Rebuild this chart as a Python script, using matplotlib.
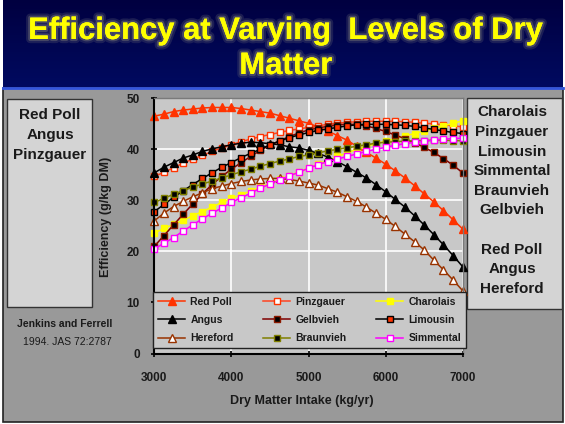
import numpy as np
import matplotlib
matplotlib.use("Agg")
import matplotlib.pyplot as plt
import matplotlib.patheffects as pe
from matplotlib.patches import Rectangle

plt.rcParams['font.family'] = ['Liberation Sans', 'DejaVu Sans']

# Dry matter intake grid (kg/yr), one point every 125 kg/yr
intake = np.arange(3000, 7001, 125)

# Efficiency (g/kg DM), Jenkins and Ferrell 1994
red_poll = [46.5, 46.9, 47.4, 47.7, 47.9, 48.1, 48.2, 48.2, 48.2, 48.0, 47.7,
            47.4, 47.1, 46.6, 46.1, 45.6, 45.1, 44.4, 43.6, 42.7, 41.8, 40.6,
            39.4, 38.3, 37.1, 35.8, 34.4, 32.9, 31.3, 29.7, 28.0, 26.2, 24.4]
pinzgauer = [34.7, 35.5, 36.4, 37.3, 38.1, 38.8, 39.6, 40.3, 40.9, 41.5, 42.0,
             42.5, 42.9, 43.3, 43.7, 44.0, 44.3, 44.6, 44.9, 45.1, 45.3, 45.4,
             45.5, 45.5, 45.5, 45.5, 45.4, 45.3, 45.1, 45.0, 44.8, 44.6, 44.4]
charolais = [23.6, 24.5, 25.3, 26.1, 27.0, 27.8, 28.7, 29.6, 30.4, 31.1, 31.8,
             32.6, 33.3, 34.1, 34.8, 35.6, 36.3, 37.1, 37.8, 38.6, 39.3, 40.0,
             40.6, 41.1, 41.6, 42.1, 42.6, 43.1, 43.6, 44.1, 44.6, 45.1, 45.6]
angus = [35.4, 36.5, 37.4, 38.3, 38.9, 39.6, 40.1, 40.5, 40.9, 41.2, 41.4,
         41.3, 41.1, 40.9, 40.5, 40.3, 39.8, 39.2, 38.5, 37.6, 36.6, 35.5,
         34.4, 33.1, 31.7, 30.2, 28.7, 27.0, 25.2, 23.3, 21.3, 19.2, 17.0]
gelbvieh = [21.0, 23.1, 25.2, 27.3, 29.3, 31.3, 33.1, 34.7, 36.1, 37.4, 38.6,
            39.8, 40.8, 41.7, 42.5, 43.2, 43.8, 44.2, 44.5, 44.8, 44.9, 44.9,
            44.6, 44.1, 43.5, 42.8, 42.1, 41.3, 40.4, 39.4, 38.2, 36.9, 35.4]
limousin = [27.8, 29.2, 30.6, 31.9, 33.1, 34.3, 35.4, 36.5, 37.4, 38.4, 39.2,
            40.0, 40.9, 41.6, 42.3, 42.8, 43.3, 43.7, 44.0, 44.3, 44.6, 44.8,
            44.9, 44.9, 44.9, 44.8, 44.7, 44.5, 44.2, 43.9, 43.6, 43.3, 43.1]
hereford = [26.0, 27.5, 28.8, 29.8, 30.7, 31.5, 32.3, 32.8, 33.3, 33.7, 34.0,
            34.2, 34.3, 34.3, 34.1, 33.8, 33.4, 33.0, 32.3, 31.6, 30.7, 29.8,
            28.7, 27.5, 26.3, 24.9, 23.4, 21.9, 20.3, 18.3, 16.4, 14.4, 12.3]
braunvieh = [29.6, 30.4, 31.2, 31.9, 32.6, 33.2, 33.8, 34.4, 35.0, 35.6, 36.1,
             36.7, 37.2, 37.7, 38.1, 38.6, 38.9, 39.3, 39.7, 40.0, 40.3, 40.6,
             40.9, 41.2, 41.4, 41.5, 41.6, 41.7, 41.7, 41.8, 41.8, 41.7, 41.7]
simmental = [20.5, 21.6, 22.7, 24.0, 25.2, 26.4, 27.5, 28.5, 29.6, 30.5, 31.4,
             32.4, 33.2, 34.0, 34.8, 35.5, 36.3, 37.0, 37.6, 38.1, 38.6, 39.1,
             39.6, 40.0, 40.4, 40.8, 41.1, 41.4, 41.6, 41.8, 42.0, 42.1, 42.2]

left_box = ["Red Poll", "Angus", "Pinzgauer"]
right_box = ["Charolais", "Pinzgauer", "Limousin", "Simmental", "Braunvieh",
             "Gelbvieh", "", "Red Poll", "Angus", "Hereford"]

# name, values, line colour, marker, marker face, marker edge
series = [
    ("Red Poll", red_poll, "#ff3300", "^", "#ff3300", "#ff3300"),
    ("Pinzgauer", pinzgauer, "#ff4422", "s", "white", "#ff3300"),
    ("Charolais", charolais, "#ffff00", "s", "#ffff00", "#ffff00"),
    ("Angus", angus, "black", "^", "black", "black"),
    ("Gelbvieh", gelbvieh, "#800000", "s", "black", "#8b1a00"),
    ("Limousin", limousin, "black", "s", "#ff3300", "black"),
    ("Hereford", hereford, "#993300", "^", "white", "#993300"),
    ("Braunvieh", braunvieh, "#808000", "s", "black", "#808000"),
    ("Simmental", simmental, "#ff00ff", "s", "white", "#ff00ff"),
]

W, H = 565, 424
fig = plt.figure(figsize=(W / 100, H / 100), dpi=100)
fig.patch.set_facecolor("white")

# slide background drawn in pixel coordinates
bg = fig.add_axes([0, 0, 1, 1])
bg.set_xlim(0, W)
bg.set_ylim(H, 0)
bg.axis("off")
grad = np.linspace(0, 1, 100).reshape(-1, 1)
bg.imshow(grad, extent=[3, 563, 87, 0], aspect="auto",
          cmap=matplotlib.colors.LinearSegmentedColormap.from_list(
              "band", ["#000040", "#000a60"]), zorder=0)
bg.add_patch(Rectangle((3, 88), 560, 334, facecolor="#999999",
                       edgecolor="#222222", lw=1.2, zorder=1))
bg.plot([3, 563], [87.5, 87.5], color="#3355dd", lw=2, zorder=2)

glow = [pe.withStroke(linewidth=6, foreground="#50506a", alpha=0.35),
        pe.withStroke(linewidth=3, foreground="#606070", alpha=0.6),
        pe.Normal()]
bg.text(286, 31, "Efficiency at Varying  Levels of Dry", color="#ffff00",
        fontsize=22.3, fontweight="bold", ha="center", va="center",
        path_effects=glow, zorder=3)
bg.text(286, 66, "Matter", color="#ffff00", fontsize=22.3, fontweight="bold",
        ha="center", va="center", path_effects=glow, zorder=3)

# side boxes
bg.add_patch(Rectangle((7, 99), 85, 208, facecolor="#d4d4d4",
                       edgecolor="#333333", lw=1, zorder=2))
for k, name in enumerate(left_box):
    bg.text(50, 115 + 20 * k, name, fontsize=11, fontweight="bold",
            ha="center", va="center", color="#1a1a1a", zorder=3)
bg.add_patch(Rectangle((467, 98), 95, 211, facecolor="#d4d4d4",
                       edgecolor="#333333", lw=1, zorder=2))
for k, name in enumerate(right_box):
    bg.text(512, 112.5 + 19.6 * k, name, fontsize=11, fontweight="bold",
            ha="center", va="center", color="#1a1a1a", zorder=3)

bg.text(112, 324, "Jenkins and Ferrell", fontsize=7.5, fontweight="bold",
        ha="right", va="center", color="#1a1a1a", zorder=3)
bg.text(112, 342, "1994. JAS 72:2787", fontsize=7.5,
        ha="right", va="center", color="#1a1a1a", zorder=3)

# axis titles
bg.text(106, 217, "Efficiency (g/kg DM)", fontsize=9, fontweight="bold",
        rotation=90, ha="center", va="center", color="#1a1a1a", zorder=3)
bg.text(302, 401, "Dry Matter Intake (kg/yr)", fontsize=9, fontweight="bold",
        ha="center", va="center", color="#1a1a1a", zorder=3)

# main chart
ax = fig.add_axes([154.3 / W, 1 - 353.5 / H, 308.4 / W, 255.2 / H])
ax.set_facecolor("#c8c8c8")
ax.set_xlim(3000, 7000)
ax.set_ylim(0, 50)
ax.set_xticks([3000, 4000, 5000, 6000, 7000])
ax.set_yticks([0, 10, 20, 30, 40, 50])
ax.grid(True, color="white", lw=1.2)
ax.set_axisbelow(True)
for side in ("top", "right"):
    ax.spines[side].set_color("#7a7a7a")
    ax.spines[side].set_linewidth(1)
for side in ("left", "bottom"):
    ax.spines[side].set_color("black")
    ax.spines[side].set_linewidth(1.5)
ax.tick_params(direction="inout", length=5, width=1.2, labelsize=8.5,
               pad=8, colors="black", labelcolor="#1a1a1a")
ax.tick_params(axis="x", pad=10.5)
for lab in ax.get_xticklabels() + ax.get_yticklabels():
    lab.set_fontweight("bold")

lines = {}
for name, vals, lc, mk, mf, me in series:
    ms = 5.6 if mk == "^" else 5.0
    ln, = ax.plot(intake, vals, color=lc, lw=1.1, marker=mk, markersize=ms,
                  markerfacecolor=mf, markeredgecolor=me, markeredgewidth=1,
                  clip_on=False, label=name)
    lines[name] = ln

order = ["Red Poll", "Angus", "Hereford", "Pinzgauer", "Gelbvieh",
         "Braunvieh", "Charolais", "Limousin", "Simmental"]
leg = ax.legend([lines[n] for n in order], order, ncol=3, mode="expand",
                loc="lower left", bbox_to_anchor=(-0.003, 0.022, 1.014, 0.22),
                fontsize=7.5, frameon=True, fancybox=False, handlelength=2.6,
                labelspacing=0.78, borderpad=0.45, handletextpad=0.5,
                columnspacing=1.0, borderaxespad=0)
leg.get_frame().set_facecolor("#c8c8c8")
leg.get_frame().set_edgecolor("#222222")
leg.get_frame().set_alpha(1)
leg.get_frame().set_linewidth(1)
for t in leg.get_texts():
    t.set_fontweight("bold")
    t.set_color("#1a1a1a")

fig.savefig("out.png", dpi=100)
